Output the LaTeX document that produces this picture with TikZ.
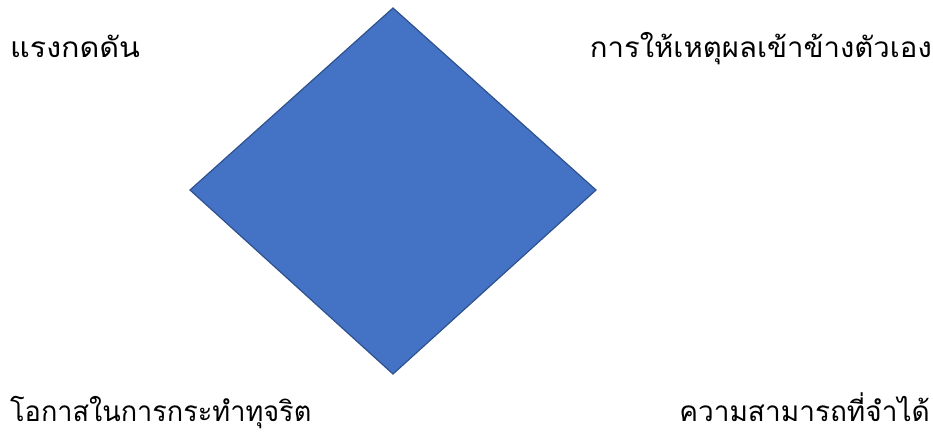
\documentclass[tikz,border=0pt]{standalone}
\usepackage{fontspec}
\newfontfamily\thaifont[Script=Thai]{Loma}
\begin{document}
\begin{tikzpicture}[x=1pt,y=-1pt,
  lbl/.style={font=\thaifont\fontsize{28}{32}\selectfont, inner sep=0pt},
  dia/.style={fill={rgb,255:red,68;green,114;blue,196}, draw={rgb,255:red,47;green,82;blue,143}, line width=1.2pt, line join=miter}]
\useasboundingbox (0,0) rectangle (933,437);
\coordinate (T) at (393,8);
\coordinate (R) at (596,190);
\coordinate (B) at (393,374);
\coordinate (L) at (190,190);
\draw[dia] (T) -- (R) -- (B) -- (L) -- cycle;
\node[lbl, anchor=base west] (p) at (10,57) {\scalebox{1.09}[1]{แรงกดดัน}};
\node[lbl, anchor=base east] (r) at (932,57) {\scalebox{1.047}[1]{การให้เหตุผลเข้าข้างตัวเอง}};
\node[lbl, anchor=base west] (o) at (10,421) {\scalebox{0.967}[1]{โอกาสในการกระทำทุจริต}};
\node[lbl, anchor=base east] (c) at (930,421) {ความสามารถที่จำได้};
\end{tikzpicture}
\end{document}
